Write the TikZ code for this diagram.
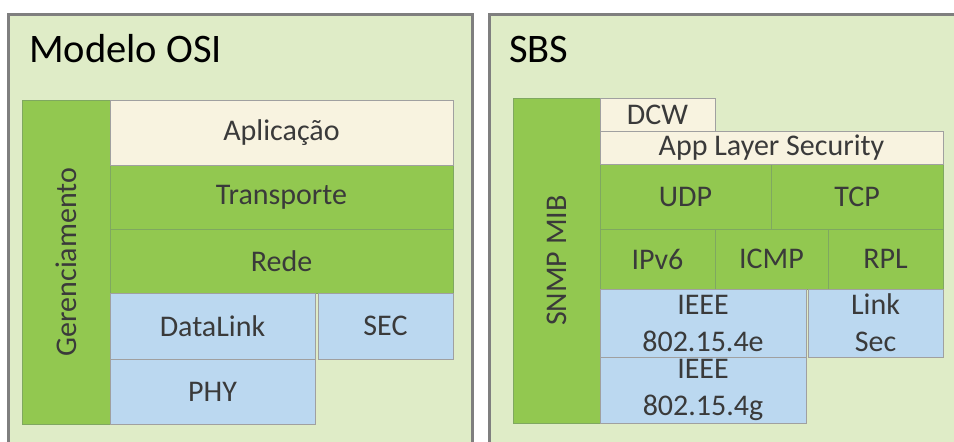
\documentclass[tikz,border=0pt]{standalone}
\usepackage{fontspec}
\setmainfont{Carlito}
\definecolor{panelfill}{HTML}{DFECC7}
\definecolor{panelline}{HTML}{7F7F7F}
\definecolor{lgreen}{HTML}{92C850}
\definecolor{cream}{HTML}{F8F3E0}
\definecolor{lblue}{HTML}{BBD8F0}
\definecolor{boxline}{HTML}{A0A0A0}
\definecolor{grnline}{HTML}{7FA860}
\definecolor{txt}{HTML}{3A3A3A}
\tikzset{
  panel/.style={draw=panelline, line width=3pt, fill=panelfill},
  title/.style={anchor=base west, inner sep=0pt, font=\fontsize{40.5}{44}\selectfont, text=black},
  layer/.style={anchor=north west, inner sep=0pt, outer sep=0pt,
    font=\fontsize{30}{37}\selectfont, text=txt, align=center},
  grn/.style={layer, fill=lgreen},
  crm/.style={layer, fill=cream},
  blu/.style={layer, fill=lblue},
  edge/.style={draw=boxline, line width=0.9pt},
  gedge/.style={draw=grnline, line width=0.9pt},
  vtext/.style={rotate=90, font=\fontsize{30}{37}\selectfont, text=txt, inner sep=0pt},
}
\begin{document}
\begin{tikzpicture}[x=1pt,y=-1pt]
\useasboundingbox (0,0) rectangle (954,442);
\clip (0,0) rectangle (954,442);
% panels
\draw[panel] (8,14) rectangle (472,460);
\draw[panel] (489,14) rectangle (970,460);
\node[title] (t1) at (29,62) {Modelo OSI};
\node[title] (t2) at (509,62) {SBS};
% left stack
\node[grn, minimum width=88pt, minimum height=324pt] (ger) at (22,100) {};
\node[vtext] (gertxt) at (ger.center) {Gerenciamento};
\node[crm, minimum width=343pt, minimum height=65pt] (apl) at (110,100) {Aplicação};
\node[grn, minimum width=343pt, minimum height=64pt] (tra) at (110,165) {Transporte};
\node[grn, minimum width=343pt, minimum height=64pt] (red) at (110,229) {Rede};
\node[blu, minimum width=205pt, minimum height=66pt] (dl) at (110,293) {DataLink};
\node[blu, minimum width=135pt, minimum height=66pt] (sec) at (318,293) {SEC};
\node[blu, minimum width=205pt, minimum height=65pt] (phy) at (110,359) {PHY};
% right stack
\node[grn, minimum width=87pt, minimum height=325pt] (snmp) at (513,98) {};
\node[vtext] (snmptxt) at (snmp.center) {SNMP MIB};
\node[crm, minimum width=115pt, minimum height=33pt] (dcw) at (600,98) {DCW};
\node[crm, minimum width=343pt, minimum height=33pt] (als) at (600,131) {App Layer Security};
\node[grn, minimum width=171pt, minimum height=65pt] (udp) at (600,164) {UDP};
\node[grn, minimum width=172pt, minimum height=65pt] (tcp) at (771,164) {TCP};
\node[grn, minimum width=115pt, minimum height=60pt] (ipv6) at (600,229) {IPv6};
\node[grn, minimum width=113pt, minimum height=60pt] (icmp) at (715,229) {ICMP};
\node[grn, minimum width=115pt, minimum height=60pt] (rpl) at (828,229) {RPL};
\node[blu, minimum width=206pt, minimum height=68pt] (e) at (600,289) {IEEE\\802.15.4e};
\node[blu, minimum width=135pt, minimum height=68pt] (ls) at (808,289) {Link\\Sec};
\node[blu, minimum width=206pt, minimum height=66pt] (g) at (600,357) {IEEE\\802.15.4g};
% borders on top
\foreach \n in {ger,tra,red,snmp,udp,tcp,ipv6,icmp,rpl}
  \draw[gedge] (\n.north west) rectangle (\n.south east);
\foreach \n in {apl,dl,sec,phy,dcw,als,e,ls,g}
  \draw[edge] (\n.north west) rectangle (\n.south east);
\end{tikzpicture}
\end{document}
